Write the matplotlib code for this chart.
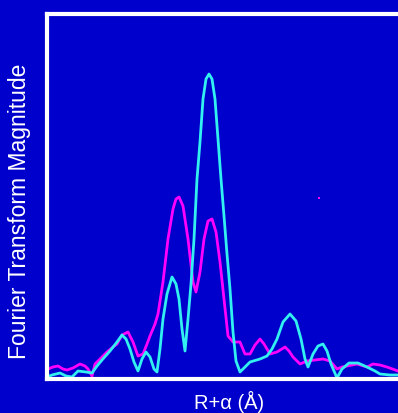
import matplotlib
matplotlib.use("Agg")
import matplotlib.pyplot as plt

# R + alpha (Angstrom) and Fourier transform magnitude (arbitrary units)
r_cyan = [0.00, 0.10, 0.26, 0.38, 0.50, 0.62, 0.78, 0.90, 1.00, 1.10, 1.26, 1.40, 1.50, 1.58,
          1.66, 1.74, 1.82, 1.90, 1.98, 2.06, 2.14, 2.20, 2.26, 2.32, 2.40, 2.50, 2.58, 2.64,
          2.70, 2.76, 2.82, 2.88, 2.94, 3.00, 3.06, 3.12, 3.18, 3.24, 3.30, 3.36, 3.42, 3.48,
          3.54, 3.60, 3.66, 3.72, 3.78, 3.86, 4.06, 4.26, 4.40, 4.50, 4.60, 4.72, 4.86, 4.98,
          5.08, 5.16, 5.22, 5.32, 5.42, 5.52, 5.60, 5.68, 5.80, 5.90, 6.04, 6.22, 6.40, 6.56,
          6.66, 6.86, 7.02]
mag_cyan = [2, 4, 6, 3, 2, 8, 7, 6, 13, 19, 28, 37, 44, 40,
            30, 17, 8, 20, 27, 22, 10, 7, 30, 60, 85, 102, 95, 80,
            50, 28, 60, 95, 140, 200, 237, 280, 300, 305, 300, 280, 240, 200,
            163, 125, 90, 47, 18, 7, 17, 20, 23, 30, 40, 57, 65, 58,
            40, 20, 12, 25, 33, 35, 28, 15, 1, 10, 16, 16, 12, 8,
            5, 4, 4]

r_magenta = [0.02, 0.12, 0.22, 0.32, 0.40, 0.52, 0.66, 0.76, 0.82, 0.90, 0.96, 1.06, 1.20,
             1.32, 1.40, 1.50, 1.62, 1.72, 1.82, 1.92, 2.00, 2.06, 2.16, 2.22, 2.32, 2.42,
             2.52, 2.58, 2.64, 2.72, 2.82, 2.92, 2.98, 3.06, 3.14, 3.22, 3.30, 3.38, 3.46,
             3.54, 3.62, 3.72, 3.86, 3.96, 4.06, 4.16, 4.26, 4.34, 4.40, 4.46, 4.60, 4.76,
             4.84, 4.92, 5.06, 5.20, 5.36, 5.52, 5.66, 5.80, 5.90, 6.00, 6.20, 6.40, 6.52,
             6.66, 6.80, 7.02]
mag_magenta = [10, 12, 13, 10, 9, 11, 15, 13, 10, 3, 15, 20, 27,
               32, 35, 44, 47, 37, 23, 25, 35, 43, 55, 65, 97, 140,
               170, 180, 182, 173, 140, 97, 87, 107, 140, 158, 160, 147, 117,
               80, 43, 37, 37, 25, 25, 34, 40, 35, 30, 25, 27, 32,
               28, 22, 15, 18, 19, 20, 18, 10, 12, 13, 15, 12, 15,
               14, 12, 8]

stray_r = [5.44]
stray_mag = [181]

BG = "#0000CC"
fig = plt.figure(figsize=(3.98, 4.14), dpi=100, facecolor=BG)
ax = fig.add_axes([47/398, 34/414, 351/398, 365/414])
ax.set_facecolor(BG)

ax.plot(r_magenta, mag_magenta, color="#FF00FF", lw=2.0, solid_joinstyle="round")
ax.plot(r_cyan, mag_cyan, color="#33F0F0", lw=2.0, solid_joinstyle="round")
ax.plot(stray_r, stray_mag, linestyle="none", marker="s", markersize=1.5,
        color="#FF00FF", markeredgewidth=0)

ax.set_xlim(0, 7.02)
ax.set_ylim(0, 365)
ax.set_xticks([])
ax.set_yticks([])
for side in ["left", "top", "bottom"]:
    ax.spines[side].set_color("white")
    ax.spines[side].set_linewidth(3.0)
ax.spines["right"].set_visible(False)

fig.text(20/398, 1 - 211/414, "Fourier Transform Magnitude", rotation=90,
         color="white", fontsize=16.5, family="Liberation Sans",
         ha="center", va="center")
fig.text(229/398, 1 - 402/414, "R+α (Å)", color="white", fontsize=14.5,
         family="Liberation Sans", ha="center", va="center")

fig.savefig("out.png", dpi=100, facecolor=BG)
